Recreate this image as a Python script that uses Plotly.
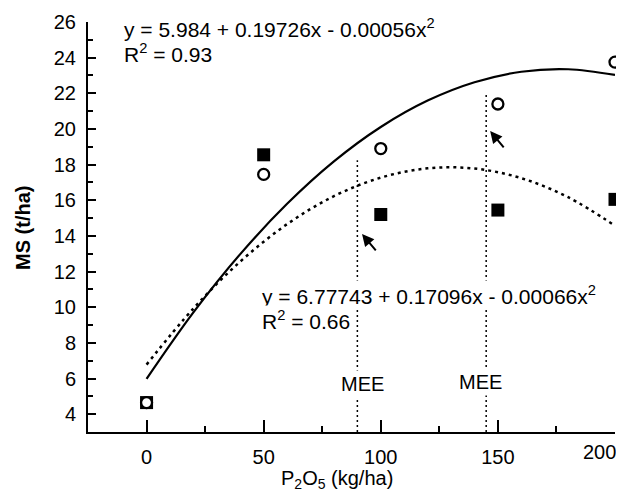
import plotly.graph_objects as go

# ---- data ----
rates = [0, 50, 100, 150, 200]                      # P2O5 (kg/ha)
ms_open = [4.65, 17.45, 18.9, 21.4, 23.75]          # open circles (t/ha)
ms_filled = [4.65, 18.55, 15.2, 15.45, 16.05]       # filled squares (t/ha)

curve_x = [0, 20, 40, 60, 80, 100, 120, 140, 160, 180, 200]
curve_solid = [5.98, 9.71, 12.98, 15.80, 18.18, 20.11, 21.59, 22.62, 23.21, 23.35, 23.03]
curve_dotted = [6.78, 9.93, 12.56, 14.66, 16.23, 17.27, 17.79, 17.78, 17.24, 16.17, 14.57]

mee_x = [90, 145]
mee_top = [18.25, 22.07]
mee_label_x = [92, 142.4]
mee_label_y = [5.70, 5.81]

eq1 = ["y = 5.984 + 0.19726x - 0.00056x<sup>2</sup>", "R<sup>2</sup> = 0.93"]
eq2 = ["y = 6.77743 + 0.17096x - 0.00066x<sup>2</sup>", "R<sup>2</sup> = 0.66"]

x_ticks = [0, 50, 100, 150, 200]
x_ticktext = ["0", "50", "100", "150", ""]   # last label is drawn as an annotation
last_x_label = "200"
y_ticks = [4, 6, 8, 10, 12, 14, 16, 18, 20, 22, 24, 26]

FONT = "Liberation Sans, Arial, sans-serif"
FS = 20
EQFS = 21

# the page body has an 8px margin, so the figure is 16px smaller and shifted
OFF = 8
W, H = 624 - 2 * OFF, 492 - OFF
L, T = 88 - OFF, 22 - OFF
R = W - (615 - OFF)
B = H - (432 - OFF)
PW, PH = W - L - R, H - T - B

fig = go.Figure()

# vertical dotted MEE lines
for xv, top in zip(mee_x, mee_top):
    fig.add_trace(go.Scatter(x=[xv, xv], y=[3, top], mode="lines",
                             line=dict(color="black", width=1.5, dash="2px,3px"),
                             hoverinfo="skip", showlegend=False))

# fitted curves
fig.add_trace(go.Scatter(x=curve_x, y=curve_solid, mode="lines",
                         line=dict(color="black", width=2.2, shape="spline"),
                         showlegend=False))
fig.add_trace(go.Scatter(x=curve_x, y=curve_dotted, mode="lines",
                         line=dict(color="black", width=2.5, shape="spline", dash="3px,4px"),
                         showlegend=False))

# markers
fig.add_trace(go.Scatter(x=rates, y=ms_filled, mode="markers",
                         marker=dict(symbol="square", size=13, color="black"),
                         cliponaxis=False, showlegend=False))
fig.add_trace(go.Scatter(x=rates, y=ms_open, mode="markers",
                         marker=dict(symbol="circle", size=11, color="white",
                                     line=dict(color="black", width=2.3)),
                         cliponaxis=False, showlegend=False))

ann = []
# equations
for i, t in enumerate(eq1):
    ann.append(dict(x=-10.5, y=25.66 - i * 25 / 17.83, xref="x", yref="y", text=t,
                    showarrow=False, xanchor="left", yanchor="middle",
                    font=dict(family=FONT, size=EQFS, color="black")))
for i, t in enumerate(eq2):
    ann.append(dict(x=48.4, y=10.69 - i * 25 / 17.83, xref="x", yref="y", text=t,
                    showarrow=False, xanchor="left", yanchor="middle", bgcolor="white",
                    borderpad=1,
                    font=dict(family=FONT, size=EQFS, color="black")))
# MEE labels
for lx, ly in zip(mee_label_x, mee_label_y):
    ann.append(dict(x=lx, y=ly, xref="x", yref="y", text="MEE", showarrow=False,
                    xanchor="center", yanchor="middle", bgcolor="white", borderpad=2,
                    font=dict(family=FONT, size=FS, color="black")))
# arrows
for hx, hy, tx, ty in [(92.0, 14.11, 98.4, 13.1), (146.7, 19.89, 153.0, 18.88)]:
    ann.append(dict(x=hx, y=hy, ax=tx, ay=ty, xref="x", yref="y", axref="x", ayref="y",
                    text="", showarrow=True, arrowhead=2, arrowsize=1.2, arrowwidth=2,
                    arrowcolor="black", standoff=0, startstandoff=0))
# last x tick label, pulled left so it stays inside the page
ann.append(dict(x=x_ticks[-1], xref="x", yref="paper", y=-(452 - 432) / PH,
                text=last_x_label, showarrow=False, xanchor="right", yanchor="middle",
                xshift=3, font=dict(family=FONT, size=FS, color="black")))
# axis titles (placed in paper coordinates)
ann.append(dict(xref="paper", yref="paper", x=(337 - 88) / PW, y=-(479 - 432) / PH,
                text="P<sub>2</sub>O<sub>5</sub> (kg/ha)", showarrow=False,
                xanchor="center", yanchor="middle",
                font=dict(family=FONT, size=FS, color="black")))
ann.append(dict(xref="paper", yref="paper", x=-(88 - 23) / PW, y=(432 - 228) / PH,
                text="<b>MS (t/ha)</b>", showarrow=False, textangle=-90,
                xanchor="center", yanchor="middle",
                font=dict(family=FONT, size=FS, color="black")))

fig.update_layout(
    width=W, height=H,
    margin=dict(l=L, r=R, t=T, b=B, autoexpand=False),
    paper_bgcolor="white", plot_bgcolor="white",
    font=dict(family=FONT, size=FS, color="black"),
    showlegend=False,
    annotations=ann,
    xaxis=dict(range=[-25, 200], tickvals=x_ticks, ticktext=x_ticktext,
               ticks="inside", ticklen=12, tickwidth=2,
               tickcolor="black", showline=True, linecolor="black", linewidth=2,
               showgrid=False, zeroline=False, ticklabelstandoff=6, automargin=False,
               minor=dict(dtick=25, tick0=0, ticks="inside", ticklen=6, tickwidth=1.5,
                          tickcolor="black", showgrid=False),
               tickfont=dict(family=FONT, size=FS, color="black")),
    yaxis=dict(range=[3, 26], tickvals=y_ticks, ticks="inside", ticklen=8, tickwidth=2,
               tickcolor="black", showline=True, linecolor="black", linewidth=2,
               showgrid=False, zeroline=False, ticklabelstandoff=6, automargin=False,
               minor=dict(dtick=1, tick0=0, ticks="inside", ticklen=5, tickwidth=1.5,
                          tickcolor="black", showgrid=False),
               tickfont=dict(family=FONT, size=FS, color="black")),
)

fig.write_html("out.html")
